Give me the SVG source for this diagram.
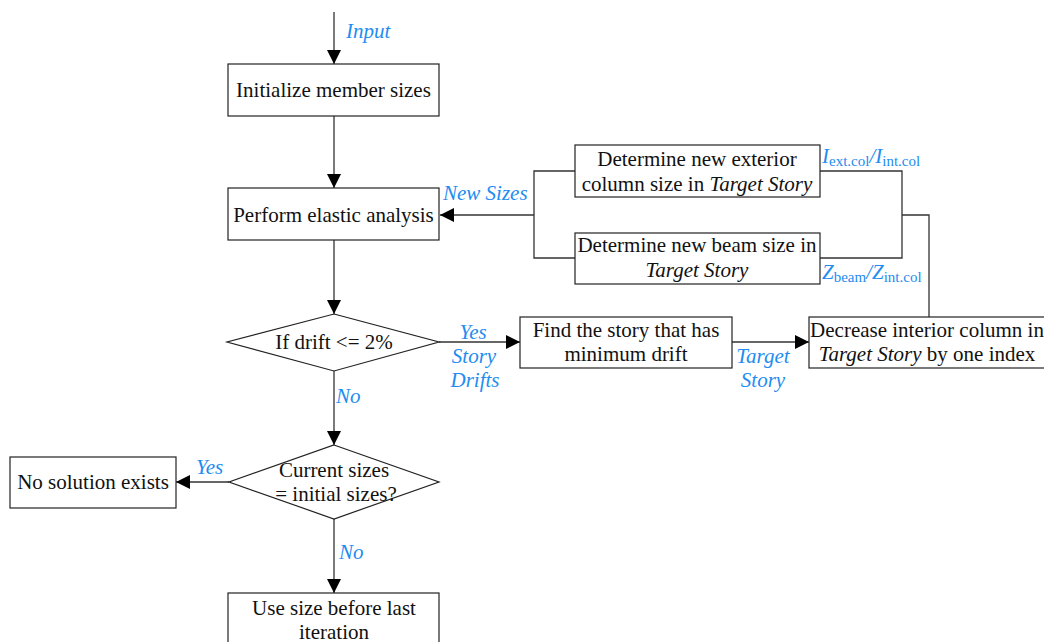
<svg xmlns="http://www.w3.org/2000/svg" width="1044" height="642" viewBox="0 0 1044 642">
<defs>
<style>
.box{fill:#fff;stroke:#222;stroke-width:1.2}
.t{font-family:"Liberation Serif",serif;font-size:21px;fill:#111;text-anchor:middle}
.l{font-family:"Liberation Serif",serif;font-size:21px;fill:#1e8cf0;font-style:italic}
.c{fill:none;stroke:#333;stroke-width:1.3}
.sub{font-size:15px;font-style:normal}
</style>
<marker id="ah" viewBox="0 0 10 10" refX="10" refY="5" markerWidth="14" markerHeight="14" markerUnits="userSpaceOnUse" orient="auto">
<path d="M0,0 L10,5 L0,10 z" fill="#000"/>
</marker>
</defs>
<rect width="1044" height="642" fill="#fff"/>
<g id="connectors">
<path class="c" d="M334,12 V64" marker-end="url(#ah)"/>
<path class="c" d="M334,116 V188" marker-end="url(#ah)"/>
<path class="c" d="M334,240 V314" marker-end="url(#ah)"/>
<path class="c" d="M334,371 V445" marker-end="url(#ah)"/>
<path class="c" d="M334,519 V593" marker-end="url(#ah)"/>
<path class="c" d="M229,482 H176" marker-end="url(#ah)"/>
<path class="c" d="M439,342 H520" marker-end="url(#ah)"/>
<path class="c" d="M732,342 H809" marker-end="url(#ah)"/>
<path class="c" d="M575,171 H534 V258 H575"/>
<path class="c" d="M534,215 H440" marker-end="url(#ah)"/>
<path class="c" d="M820,171 H902 V258 H820"/>
<path class="c" d="M902,215 H929 V317"/>
</g>
<g id="n_init"><rect class="box" x="228" y="64" width="211" height="52"/><text class="t" x="333.5" y="97">Initialize member sizes</text></g>
<g id="n_perform"><rect class="box" x="228" y="188" width="211" height="52"/><text class="t" x="333.5" y="222">Perform elastic analysis</text></g>
<g id="n_ext"><rect class="box" x="575" y="145" width="245" height="52"/><text class="t" x="697" y="166">Determine new exterior</text><text class="t" x="697" y="191">column size in <tspan font-style="italic">Target Story</tspan></text></g>
<g id="n_beam"><rect class="box" x="575" y="233" width="245" height="51"/><text class="t" x="697" y="252">Determine new beam size in</text><text class="t" x="697" y="277" font-style="italic">Target Story</text></g>
<g id="n_drift"><path class="box" d="M334,314 L439,342 L334,371 L227,342 Z"/><text class="t" x="334" y="349">If drift &lt;= 2%</text></g>
<g id="n_find"><rect class="box" x="520" y="317" width="212" height="51"/><text class="t" x="626" y="337">Find the story that has</text><text class="t" x="626" y="361">minimum drift</text></g>
<g id="n_decrease"><rect class="box" x="809" y="317" width="240" height="51"/><text class="t" x="927" y="337">Decrease interior column in</text><text class="t" x="927" y="361"><tspan font-style="italic">Target Story</tspan> by one index</text></g>
<g id="n_current"><path class="box" d="M334,445 L439,482 L334,519 L229,482 Z"/><text class="t" x="334" y="477">Current sizes</text><text class="t" x="336" y="501">= initial sizes?</text></g>
<g id="n_nosol"><rect class="box" x="10" y="457" width="166" height="51"/><text class="t" x="93" y="489">No solution exists</text></g>
<g id="n_use"><rect class="box" x="228" y="593" width="211" height="60"/><text class="t" x="334" y="615">Use size before last</text><text class="t" x="334" y="639">iteration</text></g>
<g id="labels">
<text class="l" x="346" y="38">Input</text>
<text class="l" x="443" y="200">New Sizes</text>
<text class="l" x="822" y="163">I<tspan class="sub" dy="3">ext.col</tspan><tspan dy="-3">/I</tspan><tspan class="sub" dy="3">int.col</tspan></text>
<text class="l" x="822" y="279">Z<tspan class="sub" dy="3">beam</tspan><tspan dy="-3">/Z</tspan><tspan class="sub" dy="3">int.col</tspan></text>
<text class="l" x="473" y="339" text-anchor="middle">Yes</text>
<text class="l" x="474" y="363" text-anchor="middle">Story</text>
<text class="l" x="475" y="387" text-anchor="middle">Drifts</text>
<text class="l" x="336" y="403">No</text>
<text class="l" x="763" y="363" text-anchor="middle">Target</text>
<text class="l" x="763" y="387" text-anchor="middle">Story</text>
<text class="l" x="196" y="474">Yes</text>
<text class="l" x="339" y="559">No</text>
</g>
</svg>
